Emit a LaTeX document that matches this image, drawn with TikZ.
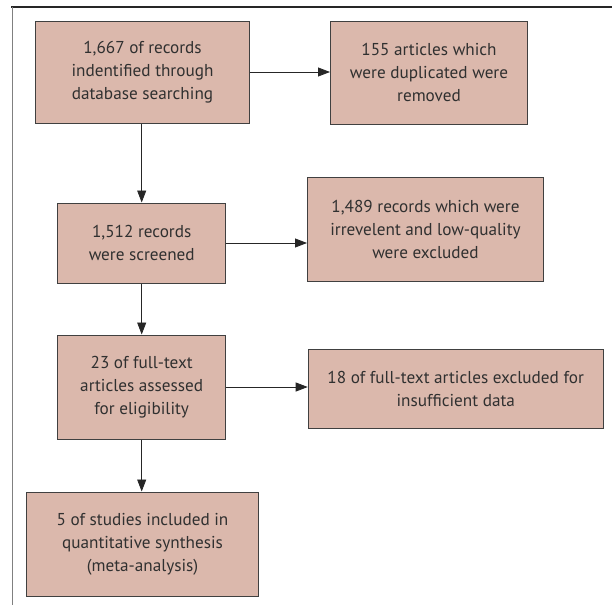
\documentclass[tikz,border=0pt]{standalone}
\usepackage{fontspec}
\setmainfont{PT Sans}
\usetikzlibrary{arrows.meta}
\definecolor{boxfill}{HTML}{DBB8AC}
\definecolor{boxline}{HTML}{404040}
\definecolor{inktext}{HTML}{303030}

\begin{document}
\begin{tikzpicture}[x=1pt,y=1pt,
		box/.style={draw=boxline,fill=boxfill,line width=1pt,align=center,
			text=inktext,font=\fontsize{17.2}{23}\selectfont,inner sep=0pt},
		flow/.style={draw=black!85,line width=0.8pt,-{Triangle[length=12pt,width=9pt]}}]
		\useasboundingbox (0,0) rectangle (612,-605);
		\draw[line width=1.2pt,black!85] (11,-7) -- (612,-7);
		\draw[line width=1pt,gray] (12,-7) -- (12,-605);
		\node[box,minimum width=214,minimum height=102] (ident) at (142.5,-72)
			{1,667 of records\\indentified through\\database searching};
		\node[box,minimum width=197,minimum height=103] (dupl) at (429,-72.5)
			{155 articles which\\were duplicated were\\removed};
		\node[box,minimum width=168,minimum height=80] (screen) at (141.7,-243)
			{1,512 records\\were screened};
		\node[box,minimum width=236,minimum height=104] (irrel) at (425.5,-229)
			{1,489 records which were\\irrevelent and low-quality\\were excluded};
		\node[box,minimum width=168,minimum height=104] (full) at (141.7,-387)
			{23 of full-text\\articles assessed\\for eligibility};
		\node[box,minimum width=295,minimum height=79] (insuff) at (455.7,-388.5)
			{18 of full-text articles excluded for\\insufficient data};
		\node[box,minimum width=232,minimum height=104] (incl) at (142.5,-544)
			{5 of studies included in\\quantitative synthesis\\(meta-analysis)};
		\draw[flow] (ident.east) -- (ident.east -| dupl.west);
		\draw[flow] (ident.south -| screen.north) -- (screen.north);
		\draw[flow] (screen.east) -- (screen.east -| irrel.west);
		\draw[flow] (screen) -- (full);
		\draw[flow] (full.east) -- (full.east -| insuff.west);
		\draw[flow] (full.south) -- (full.south |- incl.north);
	\end{tikzpicture}
\end{document}
